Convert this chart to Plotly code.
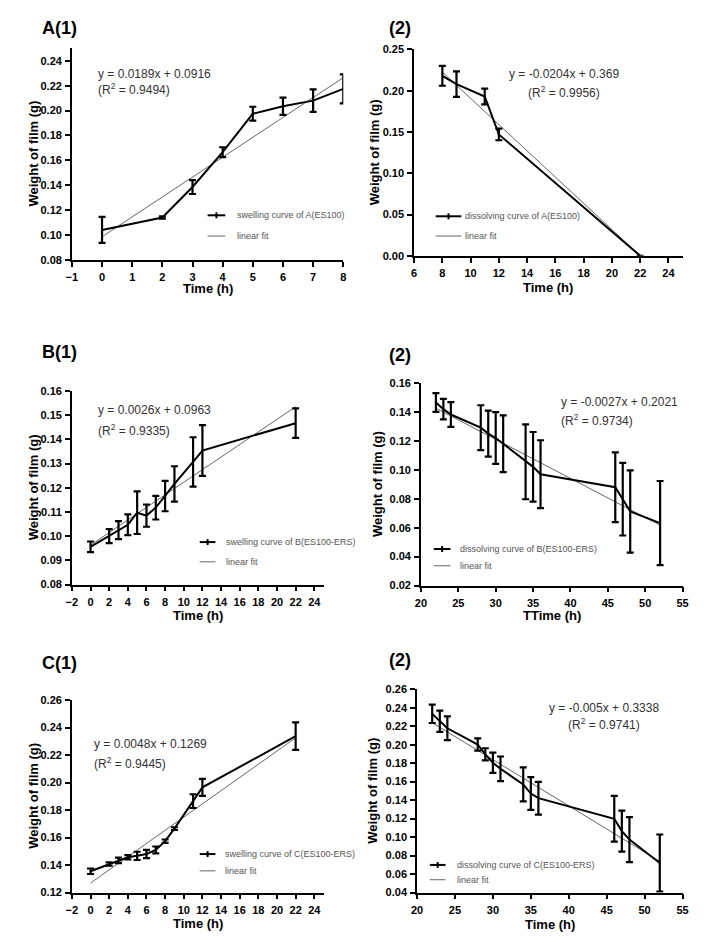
import plotly.graph_objects as go

# ---------------- data ----------------
A1_x = [0, 2, 3, 4, 5, 6, 7, 8]
A1_y = [0.104, 0.114, 0.1385, 0.1665, 0.1975, 0.2035, 0.208, 0.2175]
A1_err = [0.0105, 0.001, 0.0056, 0.004, 0.0056, 0.007, 0.009, 0.0117]
A1_fit_x = [0, 8]
A1_fit_y = [0.0985, 0.2265]

A2_x = [8, 9, 11, 12, 22]
A2_y = [0.218, 0.208, 0.193, 0.147, 0.0]
A2_err = [0.012, 0.0155, 0.0095, 0.007, 0.0]
A2_fit_x = [8, 22]
A2_fit_y = [0.2225, 0.0]

B1_x = [0, 2, 3, 4, 5, 6, 7, 8, 9, 11, 12, 22]
B1_y = [0.0956, 0.1000, 0.1025, 0.1047, 0.1097, 0.1085, 0.1118, 0.1166, 0.1216, 0.1307, 0.1354, 0.1467]
B1_err = [0.0022, 0.0029, 0.0037, 0.0043, 0.0088, 0.0046, 0.0049, 0.0063, 0.0073, 0.0102, 0.0105, 0.0061]
B1_fit_x = [0, 22]
B1_fit_y = [0.0963, 0.1535]

B2_x = [22, 23, 24, 28, 29, 30, 31, 34, 35, 36, 46, 47, 48, 52]
B2_y = [0.1466, 0.1420, 0.1383, 0.1292, 0.1251, 0.1220, 0.1181, 0.1056, 0.1021, 0.0970, 0.0880, 0.0797, 0.0712, 0.0632]
B2_err = [0.0065, 0.0071, 0.0086, 0.0155, 0.0159, 0.0179, 0.0196, 0.0259, 0.0241, 0.0235, 0.0241, 0.0251, 0.0284, 0.0291]
B2_fit_x = [22, 52]
B2_fit_y = [0.1427, 0.0617]

C1_x = [0, 2, 3, 4, 5, 6, 7, 8, 9, 11, 12, 22]
C1_y = [0.1355, 0.1407, 0.1434, 0.1457, 0.1467, 0.1481, 0.1510, 0.1574, 0.1665, 0.1865, 0.1965, 0.2337]
C1_err = [0.002, 0.0012, 0.002, 0.0015, 0.003, 0.003, 0.0025, 0.0012, 0.001, 0.005, 0.0062, 0.010]
C1_fit_x = [0, 22]
C1_fit_y = [0.1269, 0.2325]

C2_x = [22, 23, 24, 28, 29, 30, 31, 34, 35, 36, 46, 47, 48, 52]
C2_y = [0.2333, 0.2253, 0.2177, 0.2001, 0.1895, 0.1804, 0.1739, 0.1570, 0.1471, 0.1421, 0.1198, 0.1065, 0.0973, 0.0719]
C2_err = [0.0099, 0.0115, 0.0128, 0.0066, 0.0066, 0.0110, 0.0133, 0.0184, 0.0177, 0.0177, 0.0248, 0.0222, 0.0243, 0.0309]
C2_fit_x = [22, 52]
C2_fit_y = [0.2238, 0.0738]

panel_labels = ["A(1)", "(2)", "B(1)", "(2)", "C(1)", "(2)"]
legend_names = ["swelling curve of A(ES100)", "dissolving curve of A(ES100)",
                "swelling curve of B(ES100-ERS)", "dissolving curve of B(ES100-ERS)",
                "swelling curve of C(ES100-ERS)", "dissolving curve of C(ES100-ERS)"]
equations = [("y = 0.0189x + 0.0916", "(R<sup>2</sup> = 0.9494)"),
             ("y = -0.0204x + 0.369", "(R<sup>2</sup> = 0.9956)"),
             ("y = 0.0026x + 0.0963", "(R<sup>2</sup> = 0.9335)"),
             ("y = -0.0027x + 0.2021", "(R<sup>2</sup> = 0.9734)"),
             ("y = 0.0048x + 0.1269", "(R<sup>2</sup> = 0.9445)"),
             ("y = -0.005x + 0.3338", "(R<sup>2</sup> = 0.9741)")]
x_titles = ["Time (h)", "Time (h)", "Time (h)", "TTime (h)", "Time (h)", "Time (h)"]
y_title = "Weight of film (g)"

# ---------------- layout geometry ----------------
W, H = 720, 943
FONT = "Liberation Sans, Arial, sans-serif"

def px_x(p):
    return p / W

def px_y(p):
    return 1 - p / H

panels = [
    dict(x=A1_x, y=A1_y, e=A1_err, fx=A1_fit_x, fy=A1_fit_y,
         dom=(67, 343, 43, 257), xr=[-1, 8], xt=1, yr=[0.08, 0.25], yt0=0.08, yt=0.02, yfmt=".2f",
         title=(35, 22), eq=(92, 69, 84, "left"), leg=(205, 223, 233, 212, 233), ytitle_x=28, xtitle_y=286),
    dict(x=A2_x, y=A2_y, e=A2_err, fx=A2_fit_x, fy=A2_fit_y,
         dom=(415, 688, 44, 253), xr=[6, 25], xt=2, yr=[0, 0.25], yt0=0, yt=0.05, yfmt=".2f",
         title=(387, 22), eq=(567, 69, 87, "center"), leg=(437, 463, 465, 213, 233), ytitle_x=375, xtitle_y=285),
    dict(x=B1_x, y=B1_y, e=B1_err, fx=B1_fit_x, fy=B1_fit_y,
         dom=(67, 323, 390, 586), xr=[-2, 25], xt=2, yr=[0.08, 0.16], yt0=0.08, yt=0.01, yfmt=".2f",
         title=(35, 350), eq=(92, 409, 429, "left"), leg=(197, 213, 222, 543, 563), ytitle_x=28, xtitle_y=617),
    dict(x=B2_x, y=B2_y, e=B2_err, fx=B2_fit_x, fy=B2_fit_y,
         dom=(422, 688, 382, 587), xr=[20, 55], xt=5, yr=[0.02, 0.16], yt0=0.02, yt=0.02, yfmt=".2f",
         title=(387, 353), eq=(562, 401, 419, "left"), leg=(435, 452, 460, 550, 567), ytitle_x=378, xtitle_y=617),
    dict(x=C1_x, y=C1_y, e=C1_err, fx=C1_fit_x, fy=C1_fit_y,
         dom=(67, 323, 703, 898), xr=[-2, 25], xt=2, yr=[0.12, 0.26], yt0=0.12, yt=0.02, yfmt=".2f",
         title=(35, 665), eq=(87, 748, 767, "left"), leg=(197, 213, 221, 859, 876), ytitle_x=28, xtitle_y=929),
    dict(x=C2_x, y=C2_y, e=C2_err, fx=C2_fit_x, fy=C2_fit_y,
         dom=(418, 688, 692, 898), xr=[20, 55], xt=5, yr=[0.04, 0.26], yt0=0.04, yt=0.02, yfmt=".2f",
         title=(387, 662), eq=(608, 711, 727, "center"), leg=(431, 447, 457, 870, 885), ytitle_x=373, xtitle_y=930),
]

fig = go.Figure()
annotations = []
shapes = []

for i, p in enumerate(panels):
    n = i + 1
    xa = "x" if n == 1 else f"x{n}"
    ya = "y" if n == 1 else f"y{n}"
    x0, x1, y0, y1 = p["dom"]
    # fit line (thin grey)
    fig.add_trace(go.Scatter(x=p["fx"], y=p["fy"], mode="lines",
                             line=dict(color="#666666", width=1), xaxis=xa, yaxis=ya,
                             showlegend=False, hoverinfo="skip"))
    # data with error bars
    fig.add_trace(go.Scatter(x=p["x"], y=p["y"], mode="lines",
                             line=dict(color="black", width=2),
                             error_y=dict(type="data", array=p["e"], visible=True,
                                          color="black", thickness=2.2, width=3.5),
                             xaxis=xa, yaxis=ya, showlegend=False))
    axis_common = dict(showline=True, linecolor="black", linewidth=1.6, ticks="outside",
                       ticklen=5, tickwidth=1.6, tickcolor="black", showgrid=False,
                       zeroline=False, mirror=False,
                       tickfont=dict(family=FONT, size=11, color="black", weight="bold"))
    fig.layout[f"xaxis{'' if n == 1 else n}"] = dict(
        axis_common, domain=[px_x(x0), px_x(x1)], range=p["xr"], tick0=p["xr"][0], dtick=p["xt"],
        anchor=ya, ticklabelstandoff=1)
    fig.layout[f"yaxis{'' if n == 1 else n}"] = dict(
        axis_common, domain=[px_y(y1), px_y(y0)], range=p["yr"], tick0=p["yt0"], dtick=p["yt"],
        tickformat=p["yfmt"], anchor=xa, ticklabelstandoff=1)

    # axis titles
    annotations.append(dict(x=px_x((x0 + x1) / 2), y=px_y(p["xtitle_y"]), xref="paper", yref="paper",
                            text=x_titles[i], showarrow=False, xanchor="center", yanchor="middle",
                            font=dict(family=FONT, size=13, color="black", weight="bold")))
    annotations.append(dict(x=px_x(p["ytitle_x"]), y=px_y((y0 + y1) / 2), xref="paper", yref="paper",
                            text=y_title, showarrow=False, textangle=-90, xanchor="center", yanchor="middle",
                            font=dict(family=FONT, size=13, color="black", weight="bold")))
    # panel label
    tx, ty = p["title"]
    annotations.append(dict(x=px_x(tx), y=px_y(ty), xref="paper", yref="paper", text=panel_labels[i],
                            showarrow=False, xanchor="left", yanchor="middle",
                            font=dict(family=FONT, size=18, color="black", weight="bold")))
    # equation
    ex, ey1, ey2, al = p["eq"]
    for txt, yy in zip(equations[i], (ey1, ey2)):
        annotations.append(dict(x=px_x(ex), y=px_y(yy), xref="paper", yref="paper", text=txt,
                                showarrow=False, xanchor=al, yanchor="middle",
                                font=dict(family=FONT, size=12, color="#333333")))
    # legend (manual)
    lx0, lx1, ltx, ly1, ly2 = p["leg"]
    shapes.append(dict(type="line", xref="paper", yref="paper", x0=px_x(lx0), x1=px_x(lx1),
                       y0=px_y(ly1), y1=px_y(ly1), line=dict(color="black", width=2)))
    shapes.append(dict(type="line", xref="paper", yref="paper", x0=px_x((lx0 + lx1) / 2), x1=px_x((lx0 + lx1) / 2),
                       y0=px_y(ly1 - 3), y1=px_y(ly1 + 3), line=dict(color="black", width=2)))
    shapes.append(dict(type="line", xref="paper", yref="paper", x0=px_x(lx0), x1=px_x(lx1),
                       y0=px_y(ly2), y1=px_y(ly2), line=dict(color="#666666", width=1)))
    annotations.append(dict(x=px_x(ltx), y=px_y(ly1), xref="paper", yref="paper", text=legend_names[i],
                            showarrow=False, xanchor="left", yanchor="middle",
                            font=dict(family=FONT, size=9, color="#555555")))
    annotations.append(dict(x=px_x(ltx), y=px_y(ly2), xref="paper", yref="paper", text="linear fit",
                            showarrow=False, xanchor="left", yanchor="middle",
                            font=dict(family=FONT, size=9, color="#555555")))

fig.update_layout(width=W, height=H, margin=dict(l=0, r=0, t=0, b=0),
                  paper_bgcolor="white", plot_bgcolor="white",
                  annotations=annotations, shapes=shapes, showlegend=False,
                  font=dict(family=FONT))

fig.write_html("out.html", config={"displayModeBar": False},
               post_script="document.body.style.margin='0';document.body.style.overflow='hidden';")
